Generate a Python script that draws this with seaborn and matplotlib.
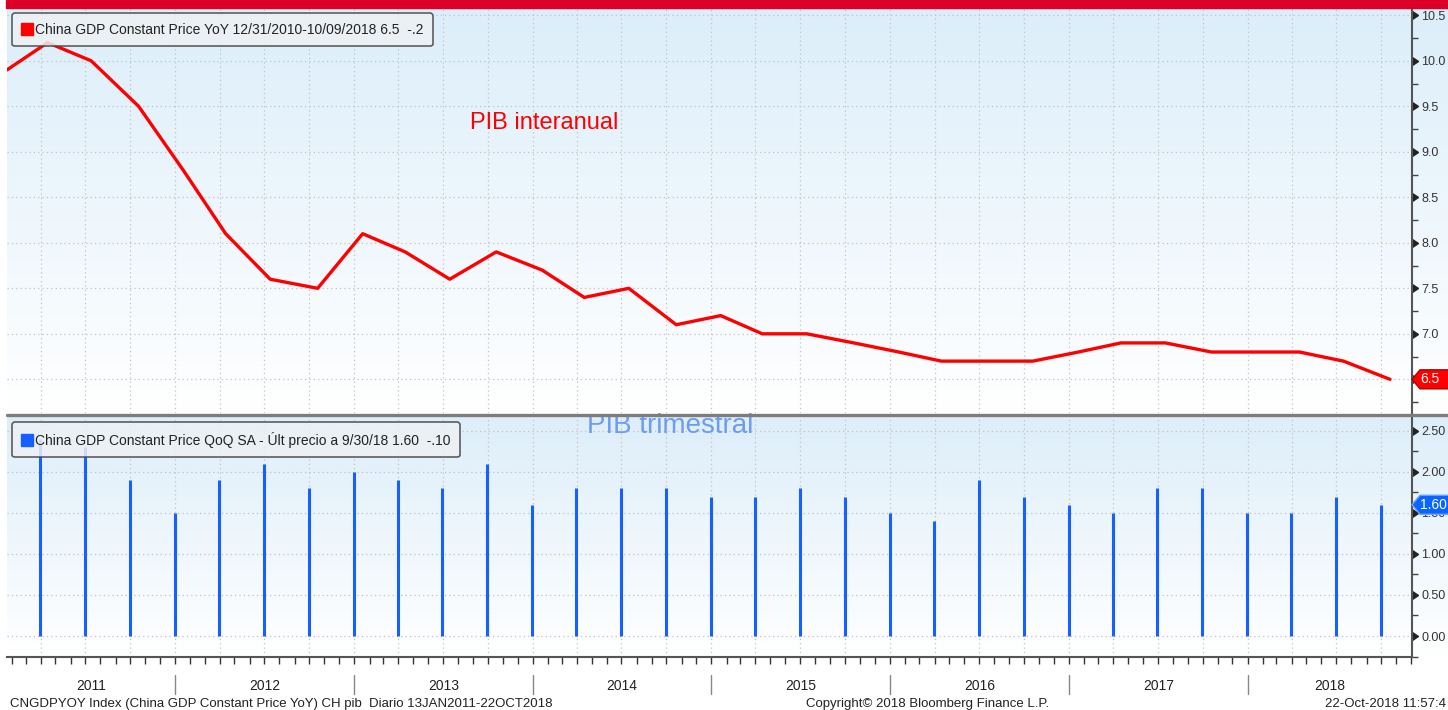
import numpy as np
import pandas as pd
import matplotlib
matplotlib.use("Agg")
import matplotlib.pyplot as plt
import matplotlib.dates as mdates
import seaborn as sns
from matplotlib import font_manager
from matplotlib.colors import LinearSegmentedColormap
from matplotlib.lines import Line2D
from matplotlib.patches import Rectangle, Polygon
from matplotlib.ticker import MultipleLocator, FuncFormatter
from matplotlib.transforms import blended_transform_factory, IdentityTransform

# --- Data ---
yoy_dates = ['2011-01-22', '2011-04-15', '2011-07-13', '2011-10-18',
             '2012-01-17', '2012-04-13', '2012-07-13', '2012-10-18',
             '2013-01-18', '2013-04-15', '2013-07-15', '2013-10-18',
             '2014-01-20', '2014-04-16', '2014-07-16', '2014-10-21',
             '2015-01-20', '2015-04-15', '2015-07-15', '2015-10-19',
             '2016-01-19', '2016-04-15', '2016-07-15', '2016-10-19',
             '2017-01-20', '2017-04-17', '2017-07-17', '2017-10-19',
             '2018-01-18', '2018-04-17', '2018-07-16', '2018-10-19']
yoy_values = [9.9, 10.2, 10.0, 9.5,
              8.8, 8.1, 7.6, 7.5,
              8.1, 7.9, 7.6, 7.9,
              7.7, 7.4, 7.5, 7.1,
              7.2, 7.0, 7.0, 6.9,
              6.8, 6.7, 6.7, 6.7,
              6.8, 6.9, 6.9, 6.8,
              6.8, 6.8, 6.7, 6.5]

qoq_quarters = ['2011Q1', '2011Q2', '2011Q3', '2011Q4',
                '2012Q1', '2012Q2', '2012Q3', '2012Q4',
                '2013Q1', '2013Q2', '2013Q3', '2013Q4',
                '2014Q1', '2014Q2', '2014Q3', '2014Q4',
                '2015Q1', '2015Q2', '2015Q3', '2015Q4',
                '2016Q1', '2016Q2', '2016Q3', '2016Q4',
                '2017Q1', '2017Q2', '2017Q3', '2017Q4',
                '2018Q1', '2018Q2', '2018Q3']
qoq_values = [2.4, 2.3, 1.9, 1.5,
              1.9, 2.1, 1.8, 2.0,
              1.9, 1.8, 2.1, 1.6,
              1.8, 1.8, 1.8, 1.7,
              1.7, 1.8, 1.7, 1.5,
              1.4, 1.9, 1.7, 1.6,
              1.5, 1.8, 1.8, 1.5,
              1.5, 1.7, 1.6]

years = list(range(2011, 2019))

yoy_label = "China GDP Constant Price YoY 12/31/2010-10/09/2018 6.5  -.2"
qoq_label = "China GDP Constant Price QoQ SA - Últ precio a 9/30/18 1.60  -.10"
footer_left = "CNGDPYOY Index (China GDP Constant Price YoY) CH pib  Diario 13JAN2011-22OCT2018"
footer_mid = "Copyright© 2018 Bloomberg Finance L.P."
footer_right = "22-Oct-2018 11:57:4"

df_yoy = pd.DataFrame({"date": pd.to_datetime(yoy_dates), "yoy": yoy_values})
df_qoq = pd.DataFrame({
    "date": pd.PeriodIndex(qoq_quarters, freq="Q").end_time.normalize(),
    "qoq": qoq_values,
})

x_min = pd.Timestamp("2011-01-22")
x_max = pd.Timestamp("2018-12-03")

# --- Style ---
sns.set_style("white")
names = {f.name for f in font_manager.fontManager.ttflist}
FONT = "Liberation Sans Narrow" if "Liberation Sans Narrow" in names else "Liberation Sans"
small = 11 if FONT.endswith("Narrow") else 9.5
plt.rcParams["font.family"] = [FONT, "DejaVu Sans"]

W, H = 1448, 710
fig = plt.figure(figsize=(W / 100, H / 100), dpi=100)
fig.patch.set_facecolor("white")


def rect(x0, y0, x1, y1):
    # pixel box (top-left origin) -> figure fraction
    return [x0 / W, 1 - y1 / H, (x1 - x0) / W, (y1 - y0) / H]


def gradient(box, top_color):
    bg = fig.add_axes(rect(*box), zorder=-5)
    bg.axis("off")
    cmap = LinearSegmentedColormap.from_list("bg", [top_color, "#ffffff"])
    bg.imshow(np.linspace(0, 1, 256)[:, None], aspect="auto", cmap=cmap,
              extent=[0, 1, 0, 1])


gradient((7, 8, W, 413), "#dceefa")
gradient((7, 417, W, 657), "#ddeefa")

ax_top = fig.add_axes(rect(7, 8, 1412, 413))
ax_bot = fig.add_axes(rect(7, 417, 1412, 657), sharex=ax_top)
for ax in (ax_top, ax_bot):
    ax.set_facecolor("none")

# --- Series ---
sns.lineplot(data=df_yoy, x="date", y="yoy", ax=ax_top, color="#ff0000",
             linewidth=2.4, zorder=5)
ax_bot.vlines(df_qoq["date"], 0, df_qoq["qoq"], color="#1560ff", linewidth=2.2,
              zorder=3)

ax_top.set_xlim(x_min, x_max)
ax_top.set_ylim(6.13, 10.58)
ax_bot.set_ylim(-0.256, 2.67)

# the last value of the top series sits under its tag, so its tick label is left out
fmt_top = FuncFormatter(lambda v, p: "" if abs(v - yoy_values[-1]) < 1e-6 else f"{v:.1f}")
fmt_bot = FuncFormatter(lambda v, p: f"{v:.2f}")

grid_kw = dict(color="#c2c2c2", linestyle=(0, (1, 2.5)), linewidth=0.9)
for ax, fmt in ((ax_top, fmt_top), (ax_bot, fmt_bot)):
    ax.set_xlabel("")
    ax.set_ylabel("")
    ax.yaxis.tick_right()
    ax.yaxis.set_major_locator(MultipleLocator(0.5))
    ax.yaxis.set_minor_locator(MultipleLocator(0.25))
    ax.yaxis.set_major_formatter(fmt)
    ax.tick_params(axis="y", which="major", length=0, pad=6.5,
                   labelsize=9, labelcolor="#333333")
    ax.tick_params(axis="y", which="minor", length=4, width=1,
                   color="#444444", right=True, left=False)
    ax.xaxis.set_major_locator(mdates.MonthLocator(bymonth=[1, 4, 7, 10]))
    ax.xaxis.set_minor_locator(mdates.MonthLocator())
    ax.grid(axis="both", which="major", **grid_kw)
    for s in ("left", "top", "bottom"):
        ax.spines[s].set_visible(False)
    ax.spines["right"].set_color("#555555")
    ax.spines["right"].set_linewidth(1.5)

    # tick pointers
    lo, hi = ax.get_ylim()
    ticks = [t for t in ax.get_yticks() if lo <= t <= hi]
    tr = blended_transform_factory(ax.transAxes, ax.transData)
    ax.plot(np.ones(len(ticks)), ticks, transform=tr, marker=9, ms=5.5,
            linestyle="none", color="#222222", clip_on=False)

ax_top.tick_params(axis="x", which="both", bottom=False, labelbottom=False)
ax_bot.spines["bottom"].set_visible(True)
ax_bot.spines["bottom"].set_color("#555555")
ax_bot.spines["bottom"].set_linewidth(1.5)
ax_bot.tick_params(axis="x", which="both", bottom=True, length=5, width=1,
                   color="#333333", direction="out", labelbottom=False)

# year labels centred in visible span, with separators
trx = blended_transform_factory(ax_bot.transData, ax_bot.transAxes)
for yr in years:
    start = max(pd.Timestamp(yr, 1, 1), x_min)
    end = min(pd.Timestamp(yr + 1, 1, 1), x_max)
    mid = start + (end - start) / 2
    ax_bot.text(mid, -0.122, str(yr), transform=trx, ha="center", va="center",
                fontsize=10, color="#222222")
    if yr > years[0]:
        ax_bot.plot([pd.Timestamp(yr, 1, 1)] * 2, [-0.075, -0.155], transform=trx,
                    color="#888888", lw=1, clip_on=False)

# --- Legends ---
def legend_box(ax, color, label, x_px, y_px, box):
    h = Line2D([], [], marker="s", linestyle="none", color=color, markersize=9)
    x0, y0, x1, y1 = box
    leg = ax.legend([h], [label], loc="upper left",
                    bbox_to_anchor=((x_px - x0) / (x1 - x0), 1 - (y_px - y0) / (y1 - y0)),
                    borderaxespad=0, borderpad=0.7, handlelength=0.7,
                    handletextpad=0.25, fontsize=10, fancybox=True,
                    framealpha=0.85, facecolor="#eef1f4", edgecolor="#444444")
    leg.get_frame().set_linewidth(1.2)
    for t in leg.get_texts():
        t.set_color("#222222")
    leg.set_zorder(10)


legend_box(ax_top, "#ff0000", yoy_label, 12, 13, (7, 8, 1412, 413))
legend_box(ax_bot, "#1560ff", qoq_label, 12, 422, (7, 417, 1412, 657))

# --- Annotations ---
fig.text(470 / W, 1 - 123 / H, "PIB interanual", color="#ff0000", fontsize=17,
         va="center", ha="left", family=["Liberation Sans", "DejaVu Sans"])
fig.text(587 / W, 1 - 433 / H, "PIB trimestral", color="#6e9cf0", fontsize=20,
         va="baseline", ha="left", family=["Liberation Sans", "DejaVu Sans"],
         zorder=1)

# top red band and panel separator
fig.add_artist(Rectangle((6 / W, 1 - 8 / H), 1 - 6 / W, 8 / H,
                         transform=fig.transFigure, color="#dc0028", zorder=30))
fig.add_artist(Line2D([7 / W, 1], [1 - 415 / H] * 2, transform=fig.transFigure,
                      color="#7d7d7d", linewidth=2.4, zorder=30))


def value_tag(ax, value, text, face, edge):
    tr = blended_transform_factory(ax.transAxes, ax.transData)
    x0, y0 = tr.transform((1, value))
    hh = 9.5
    verts = [(x0, y0), (x0 + 8, y0 + hh), (W + 2, y0 + hh), (W + 2, y0 - hh),
             (x0 + 8, y0 - hh)]
    fig.add_artist(Polygon(verts, closed=True, transform=IdentityTransform(),
                           facecolor=face, edgecolor=edge, linewidth=1, zorder=40))
    fig.text(x0 + 8, y0, text, transform=IdentityTransform(), color="white",
             fontsize=10, va="center", ha="left", zorder=41)


value_tag(ax_top, yoy_values[-1], "6.5", "#ff0000", "#b00000")
value_tag(ax_bot, qoq_values[-1], "1.60", "#0a64ff", "#6fa0ff")

# --- Footer ---
fig.text(10 / W, 1 - 704 / H, footer_left, fontsize=small, color="#222222",
         va="center", ha="left")
fig.text(928 / W, 1 - 704 / H, footer_mid, fontsize=small, color="#222222",
         va="center", ha="center")
fig.text(1 - 2 / W, 1 - 704 / H, footer_right, fontsize=small, color="#222222",
         va="center", ha="right")

fig.savefig("out.png", dpi=100)
